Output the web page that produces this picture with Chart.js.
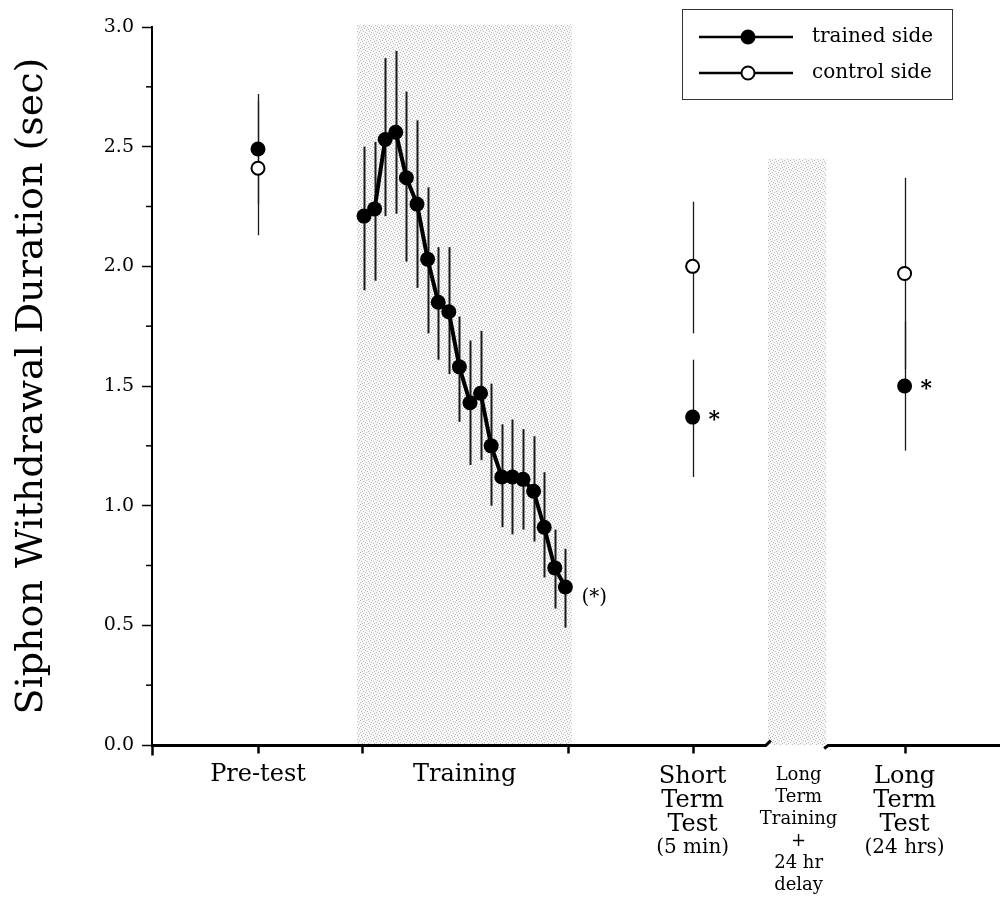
<!DOCTYPE html>
<html><head><meta charset="utf-8">
<script src="https://cdn.jsdelivr.net/npm/chart.js@4.4.0/dist/chart.umd.min.js"></script>
<style>html,body{margin:0;padding:0;background:#fff;} canvas{display:block;}</style>
</head><body>
<canvas id="c" width="1003" height="903"></canvas>
<script>
const FONT = '"DejaVu Serif", "Liberation Serif", serif';

// ---- data ----
const seriesNames = ['trained side', 'control side'];
const sessionNames = [['Pre-test'], ['Training'], ['Short', 'Term', 'Test', '(5 min)'],
  ['Long', 'Term', 'Training', '+', '24 hr', 'delay'], ['Long', 'Term', 'Test', '(24 hrs)']];
const sessionX = [1, 2.95, 5.1, 6.1, 7.1];
const xTickValues = [0, 1, 1.98, 3.92, 5.1, 7.1];
const yTickValues = [0, 0.5, 1.0, 1.5, 2.0, 2.5, 3.0];

const trialX = [2.0, 2.1, 2.2, 2.3, 2.4, 2.5, 2.6, 2.7, 2.8, 2.9, 3.0, 3.1, 3.2, 3.3, 3.4, 3.5, 3.6, 3.7, 3.8, 3.9];
const trainedTrials = [2.21, 2.24, 2.53, 2.56, 2.37, 2.26, 2.03, 1.85, 1.81, 1.58, 1.43, 1.47, 1.25, 1.12, 1.12, 1.11, 1.06, 0.91, 0.74, 0.66];
const trainedTrialsHigh = [2.50, 2.52, 2.87, 2.90, 2.73, 2.61, 2.33, 2.08, 2.08, 1.79, 1.69, 1.73, 1.51, 1.34, 1.36, 1.32, 1.29, 1.14, 0.90, 0.82];
const trainedTrialsLow = [1.90, 1.94, 2.21, 2.22, 2.02, 1.91, 1.72, 1.61, 1.55, 1.35, 1.17, 1.19, 1.00, 0.91, 0.88, 0.90, 0.85, 0.70, 0.57, 0.49];

const testX = [1, 5.1, 7.1];
const trainedTests = [2.49, 1.37, 1.50];
const trainedTestsHigh = [2.72, 1.61, 1.77];
const trainedTestsLow = [2.26, 1.12, 1.23];
const controlTests = [2.41, 2.00, 1.97];
const controlTestsHigh = [2.69, 2.27, 2.37];
const controlTestsLow = [2.13, 1.72, 1.57];

const trainingBlock = [1.935, 3.96, 3.01];
const delayBlock = [5.81, 6.36, 2.45];
const axisBreak = [5.79, 6.36];
const significance = [{x: 5.1, y: 1.37, t: '*'}, {x: 7.1, y: 1.50, t: '*'}, {x: 3.9, y: 0.66, t: '(*)'}];

// ---- helpers ----
function makePattern(ctx) {
  const c = document.createElement('canvas');
  c.width = 6; c.height = 6;
  const g = c.getContext('2d');
  g.fillStyle = '#f7f7f7'; g.fillRect(0, 0, 6, 6);
  g.fillStyle = '#bcbcbc';
  [[0,0],[3,1],[1,3],[4,4],[2,5],[5,2]].forEach(p => g.fillRect(p[0], p[1], 1, 1));
  return ctx.createPattern(c, 'repeat');
}

const decor = {
  id: 'decor',
  beforeDatasetsDraw(chart) {
    const {ctx, scales: {x, y}} = chart;
    ctx.save();
    const pat = makePattern(ctx);
    [trainingBlock, delayBlock].forEach(b => {
      const x0 = x.getPixelForValue(b[0]), x1 = x.getPixelForValue(b[1]);
      const y0 = y.getPixelForValue(b[2]), y1 = y.getPixelForValue(0);
      ctx.fillStyle = pat;
      ctx.fillRect(x0, y0, x1 - x0, y1 - y0);
    });
    // error bars
    ctx.strokeStyle = '#1a1a1a';
    function bars(xs, hi, lo, w) {
      ctx.lineWidth = w;
      xs.forEach((xv, i) => {
        const px = Math.round(x.getPixelForValue(xv)) + 0.5;
        ctx.beginPath();
        ctx.moveTo(px, y.getPixelForValue(hi[i]));
        ctx.lineTo(px, y.getPixelForValue(lo[i]));
        ctx.stroke();
      });
    }
    bars(trialX, trainedTrialsHigh, trainedTrialsLow, 2);
    bars(testX, trainedTestsHigh, trainedTestsLow, 1.3);
    bars(testX, controlTestsHigh, controlTestsLow, 1.3);
    ctx.restore();
  },
  afterDraw(chart) {
    const {ctx, scales: {x, y}, chartArea: a} = chart;
    ctx.save();
    // minor y ticks
    ctx.strokeStyle = '#000'; ctx.lineWidth = 1.5;
    for (let i = 0; i < yTickValues.length - 1; i++) {
      const py = y.getPixelForValue((yTickValues[i] + yTickValues[i + 1]) / 2);
      ctx.beginPath(); ctx.moveTo(a.left - 6, py); ctx.lineTo(a.left, py); ctx.stroke();
    }
    // x axis with break
    const ay = y.getPixelForValue(0) + 0.5;
    const b0 = x.getPixelForValue(axisBreak[0]), b1 = x.getPixelForValue(axisBreak[1]);
    ctx.lineWidth = 3;
    ctx.beginPath();
    ctx.moveTo(a.left - 1, ay); ctx.lineTo(b0, ay); ctx.lineTo(b0 + 5, ay - 5);
    ctx.moveTo(b1 - 2, ay + 3); ctx.lineTo(b1 + 2, ay); ctx.lineTo(a.right, ay);
    ctx.stroke();
    // x ticks
    ctx.lineWidth = 2.5;
    xTickValues.forEach(v => {
      const px = Math.round(x.getPixelForValue(v)) + 0.5;
      ctx.beginPath(); ctx.moveTo(px, ay); ctx.lineTo(px, ay + (v === 0 ? 10 : 8)); ctx.stroke();
    });
    // x labels
    ctx.fillStyle = '#000'; ctx.textAlign = 'center'; ctx.textBaseline = 'alphabetic';
    sessionNames.forEach((lines, i) => {
      const px = x.getPixelForValue(sessionX[i]);
      const small = lines.length > 4;
      lines.forEach((t, j) => {
        let size, by;
        if (small) { size = 18; by = 780 + 22 * j; }
        else if (t.startsWith('(')) { size = 20; by = 783 + 24 * j - 2; }
        else { size = 24; by = (lines.length === 1 ? 781 : 783) + 24 * j; }
        ctx.font = size + 'px ' + FONT;
        ctx.fillText(t, px, by);
      });
    });
    // significance marks
    ctx.textAlign = 'left';
    significance.forEach(s => {
      const px = x.getPixelForValue(s.x), py = y.getPixelForValue(s.y);
      if (s.t === '*') { ctx.font = 'bold 22px ' + FONT; ctx.fillText('*', px + 16, py + 9); }
      else { ctx.font = '20px ' + FONT; ctx.fillText(s.t, px + 16, py + 16); }
    });
    // legend
    const L = {x: 682.5, y: 9.5, w: 270, h: 90};
    ctx.lineWidth = 1; ctx.strokeStyle = '#333';
    ctx.strokeRect(L.x, L.y, L.w, L.h);
    const ds = chart.data.datasets;
    [ds[0], ds[2]].forEach((d, i) => {
      const ly = 37 + 36 * i;
      ctx.strokeStyle = '#000'; ctx.lineWidth = 2.5;
      ctx.beginPath(); ctx.moveTo(699, ly); ctx.lineTo(793, ly); ctx.stroke();
      ctx.beginPath(); ctx.arc(748, ly, i === 0 ? 7.5 : 6.5, 0, Math.PI * 2);
      ctx.fillStyle = d.pointBackgroundColor; ctx.fill();
      if (i === 1) { ctx.lineWidth = 2; ctx.stroke(); }
      ctx.fillStyle = '#000'; ctx.font = '20px ' + FONT; ctx.textBaseline = 'middle';
      ctx.fillText(d.label, 812, ly);
    });
    ctx.restore();
  }
};

new Chart(document.getElementById('c'), {
  type: 'line',
  data: {
    datasets: [
      {label: seriesNames[0], data: trialX.map((v, i) => ({x: v, y: trainedTrials[i]})),
        borderColor: '#000', borderWidth: 4, tension: 0, pointRadius: 7.5, pointBorderWidth: 0,
        pointBackgroundColor: '#000', order: 3},
      {label: seriesNames[0] + ' tests', data: testX.map((v, i) => ({x: v, y: trainedTests[i]})),
        showLine: false, pointRadius: 7.5, pointBorderWidth: 0, pointBackgroundColor: '#000', order: 2},
      {label: seriesNames[1], data: testX.map((v, i) => ({x: v, y: controlTests[i]})),
        showLine: false, pointRadius: 6.5, pointBorderWidth: 2, pointBorderColor: '#000',
        pointBackgroundColor: '#fff', order: 1}
    ]
  },
  options: {
    responsive: false, animation: false,
    layout: {autoPadding: false, padding: {top: 27, right: 3, left: 0, bottom: 158}},
    plugins: {legend: {display: false}, tooltip: {enabled: false}},
    scales: {
      x: {type: 'linear', min: 0, max: 8, display: false},
      y: {
        min: 0, max: 3,
        afterFit(s) { s.width = 152; },
        afterBuildTicks(s) { s.ticks = yTickValues.map(v => ({value: v})); },
        ticks: {callback: v => v.toFixed(1), font: {family: FONT, size: 19}, color: '#000', padding: 8},
        grid: {display: true, drawOnChartArea: false, drawTicks: true, tickLength: 10, tickColor: '#000', tickWidth: 1.5},
        border: {display: true, color: '#000', width: 2},
        title: {display: true, text: 'Siphon Withdrawal Duration (sec)', color: '#000',
          font: {family: FONT, size: 38}, padding: {top: 9, bottom: 0}}
      }
    }
  },
  plugins: [decor]
});
</script>
</body></html>
